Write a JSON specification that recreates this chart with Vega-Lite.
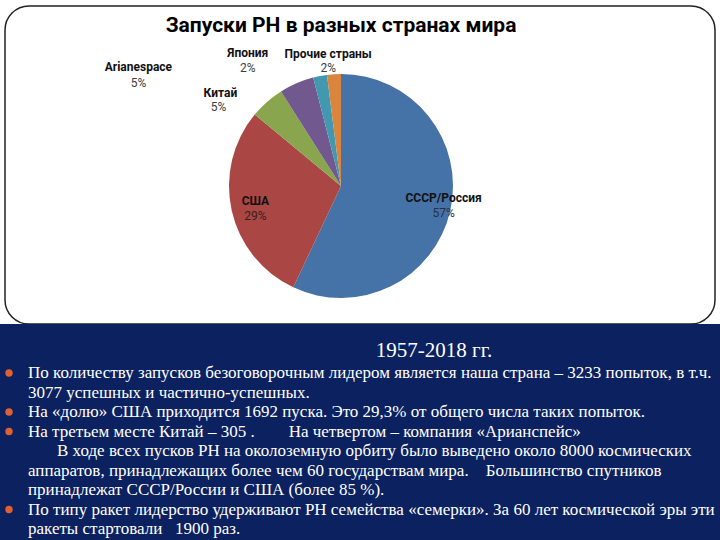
{
  "$schema": "https://vega.github.io/schema/vega-lite/v6.json",
  "background": "white",
  "padding": {"top": 5, "left": 0, "right": 0, "bottom": 0},
  "spacing": 0,
  "center": true,
  "bounds": "flush",
  "config": {"view": {"stroke": null}},
  "datasets": {
    "pie": [
      {"k": 1, "name": "СССР/Россия", "pct": 57, "plabel": "57%"},
      {"k": 2, "name": "США", "pct": 29, "plabel": "29%"},
      {"k": 3, "name": "Китай", "pct": 5, "plabel": "5%"},
      {"k": 4, "name": "Arianespace", "pct": 5, "plabel": "5%"},
      {"k": 5, "name": "Япония", "pct": 2, "plabel": "2%"},
      {"k": 6, "name": "Прочие страны", "pct": 2, "plabel": "2%"}
    ],
    "heading": [{"t": "Запуски РН в разных странах мира"}],
    "lines": [
      {"line": 0, "kind": "title", "bullet": false, "text": "1957-2018 гг."},
      {"line": 1, "kind": "body", "bullet": true, "text": "По количеству запусков безоговорочным лидером является наша страна – 3233 попыток, в т.ч."},
      {"line": 2, "kind": "body", "bullet": false, "text": "3077 успешных и частично-успешных."},
      {"line": 3, "kind": "body", "bullet": true, "text": "На «долю» США приходится 1692 пуска. Это 29,3% от общего числа таких попыток."},
      {"line": 4, "kind": "body", "bullet": true, "text": "На третьем месте Китай – 305 .\u00a0\u00a0\u00a0\u00a0\u00a0\u00a0\u00a0 На четвертом – компания «Арианспейс»"},
      {"line": 5, "kind": "indent", "bullet": false, "text": "В ходе всех пусков РН на околоземную орбиту было выведено около 8000 космических"},
      {"line": 6, "kind": "body", "bullet": false, "text": "аппаратов, принадлежащих более чем 60 государствам мира.\u00a0\u00a0\u00a0 Большинство спутников"},
      {"line": 7, "kind": "body", "bullet": false, "text": "принадлежат СССР/России и США (более 85 %)."},
      {"line": 8, "kind": "body", "bullet": true, "text": "По типу ракет лидерство удерживают РН семейства «семерки». За 60 лет космической эры эти"},
      {"line": 9, "kind": "body", "bullet": false, "text": "ракеты стартовали\u00a0\u00a0 1900 раз."}
    ]
  },
  "vconcat": [
    {
      "width": 710,
      "height": 318,
      "view": {"fill": "white", "stroke": "#222222", "strokeWidth": 1.5, "cornerRadius": 24},
      "layer": [
        {
          "data": {"name": "heading"},
          "mark": {"type": "text", "x": 336, "y": 20, "align": "center", "baseline": "middle", "font": "Roboto", "fontSize": 21, "fontWeight": "bold", "fill": "#000000"},
          "encoding": {"text": {"field": "t"}}
        },
        {
          "data": {"name": "pie"},
          "mark": {"type": "arc", "outerRadius": 112, "x": 336, "y": 180},
          "encoding": {
            "theta": {"field": "pct", "type": "quantitative", "stack": true, "scale": {"domain": [0, 100]}},
            "order": {"field": "k", "type": "quantitative"},
            "color": {
              "field": "name", "type": "nominal", "legend": null,
              "scale": {
                "domain": ["СССР/Россия", "США", "Китай", "Arianespace", "Япония", "Прочие страны"],
                "range": ["#4572A7", "#AA4643", "#89A54E", "#71588F", "#4198AF", "#DB843D"]
              }
            }
          }
        },
        {
          "data": {"name": "pie"},
          "mark": {"type": "text", "x": 336, "y": 180, "radius": 100, "dx": 5, "dy": -10, "font": "Roboto", "fontSize": 12, "fontWeight": "bold", "fill": "#111111"},
          "encoding": {"theta": {"field": "pct", "type": "quantitative", "stack": true}, "order": {"field": "k", "type": "quantitative"}, "text": {"condition": {"test": "datum.k === 1", "field": "name"}, "value": ""}}
        },
        {
          "data": {"name": "pie"},
          "mark": {"type": "text", "x": 336, "y": 180, "radius": 100, "dx": 5, "dy": 5, "font": "Roboto", "fontSize": 12, "fill": "#2a2f45"},
          "encoding": {"theta": {"field": "pct", "type": "quantitative", "stack": true}, "order": {"field": "k", "type": "quantitative"}, "text": {"condition": {"test": "datum.k === 1", "field": "plabel"}, "value": ""}}
        },
        {
          "data": {"name": "pie"},
          "mark": {"type": "text", "x": 336, "y": 180, "radius": 100, "dx": 12, "dy": -7, "font": "Roboto", "fontSize": 12, "fontWeight": "bold", "fill": "#111111"},
          "encoding": {"theta": {"field": "pct", "type": "quantitative", "stack": true}, "order": {"field": "k", "type": "quantitative"}, "text": {"condition": {"test": "datum.k === 2", "field": "name"}, "value": ""}}
        },
        {
          "data": {"name": "pie"},
          "mark": {"type": "text", "x": 336, "y": 180, "radius": 100, "dx": 12, "dy": 8, "font": "Roboto", "fontSize": 12, "fill": "#3a2020"},
          "encoding": {"theta": {"field": "pct", "type": "quantitative", "stack": true}, "order": {"field": "k", "type": "quantitative"}, "text": {"condition": {"test": "datum.k === 2", "field": "plabel"}, "value": ""}}
        },
        {
          "data": {"name": "pie"},
          "mark": {"type": "text", "x": 336, "y": 180, "radius": 140, "dx": -28, "dy": 12, "font": "Roboto", "fontSize": 12, "fontWeight": "bold", "fill": "#111111"},
          "encoding": {"theta": {"field": "pct", "type": "quantitative", "stack": true}, "order": {"field": "k", "type": "quantitative"}, "text": {"condition": {"test": "datum.k === 3", "field": "name"}, "value": ""}}
        },
        {
          "data": {"name": "pie"},
          "mark": {"type": "text", "x": 336, "y": 180, "radius": 140, "dx": -30, "dy": 26, "font": "Roboto", "fontSize": 12, "fill": "#404040"},
          "encoding": {"theta": {"field": "pct", "type": "quantitative", "stack": true}, "order": {"field": "k", "type": "quantitative"}, "text": {"condition": {"test": "datum.k === 3", "field": "plabel"}, "value": ""}}
        },
        {
          "data": {"name": "pie"},
          "mark": {"type": "text", "x": 336, "y": 180, "radius": 140, "dx": -147, "dy": 9.5, "font": "Roboto", "fontSize": 12, "fontWeight": "bold", "fill": "#111111"},
          "encoding": {"theta": {"field": "pct", "type": "quantitative", "stack": true}, "order": {"field": "k", "type": "quantitative"}, "text": {"condition": {"test": "datum.k === 4", "field": "name"}, "value": ""}}
        },
        {
          "data": {"name": "pie"},
          "mark": {"type": "text", "x": 336, "y": 180, "radius": 140, "dx": -147, "dy": 25.5, "font": "Roboto", "fontSize": 12, "fill": "#404040"},
          "encoding": {"theta": {"field": "pct", "type": "quantitative", "stack": true}, "order": {"field": "k", "type": "quantitative"}, "text": {"condition": {"test": "datum.k === 4", "field": "plabel"}, "value": ""}}
        },
        {
          "data": {"name": "pie"},
          "mark": {"type": "text", "x": 336, "y": 180, "radius": 140, "dx": -67, "dy": 4.5, "font": "Roboto", "fontSize": 12, "fontWeight": "bold", "fill": "#111111"},
          "encoding": {"theta": {"field": "pct", "type": "quantitative", "stack": true}, "order": {"field": "k", "type": "quantitative"}, "text": {"condition": {"test": "datum.k === 5", "field": "name"}, "value": ""}}
        },
        {
          "data": {"name": "pie"},
          "mark": {"type": "text", "x": 336, "y": 180, "radius": 140, "dx": -67, "dy": 19.5, "font": "Roboto", "fontSize": 12, "fill": "#404040"},
          "encoding": {"theta": {"field": "pct", "type": "quantitative", "stack": true}, "order": {"field": "k", "type": "quantitative"}, "text": {"condition": {"test": "datum.k === 5", "field": "plabel"}, "value": ""}}
        },
        {
          "data": {"name": "pie"},
          "mark": {"type": "text", "x": 336, "y": 180, "radius": 140, "dx": -4, "dy": 7.7, "font": "Roboto", "fontSize": 12, "fontWeight": "bold", "fill": "#111111"},
          "encoding": {"theta": {"field": "pct", "type": "quantitative", "stack": true}, "order": {"field": "k", "type": "quantitative"}, "text": {"condition": {"test": "datum.k === 6", "field": "name"}, "value": ""}}
        },
        {
          "data": {"name": "pie"},
          "mark": {"type": "text", "x": 336, "y": 180, "radius": 140, "dx": -4, "dy": 21.7, "font": "Roboto", "fontSize": 12, "fill": "#404040"},
          "encoding": {"theta": {"field": "pct", "type": "quantitative", "stack": true}, "order": {"field": "k", "type": "quantitative"}, "text": {"condition": {"test": "datum.k === 6", "field": "plabel"}, "value": ""}}
        }
      ]
    },
    {
      "width": 720,
      "height": 217,
      "view": {"fill": "#0C2160", "stroke": null},
      "data": {"name": "lines"},
      "encoding": {
        "y": {"field": "line", "type": "quantitative", "scale": {"domain": [1, 9], "range": [49, 205]}, "axis": null}
      },
      "layer": [
        {
          "transform": [{"filter": "datum.bullet"}],
          "mark": {"type": "point", "filled": true, "size": 55, "color": "#E0612F", "opacity": 1},
          "encoding": {"x": {"value": 9}}
        },
        {
          "transform": [{"filter": "datum.kind === 'body'"}],
          "mark": {"type": "text", "align": "left", "baseline": "middle", "font": "Liberation Serif", "fontSize": 17, "fill": "#FFFFFF"},
          "encoding": {"x": {"value": 28}, "text": {"field": "text"}}
        },
        {
          "transform": [{"filter": "datum.kind === 'indent'"}],
          "mark": {"type": "text", "align": "left", "baseline": "middle", "font": "Liberation Serif", "fontSize": 17, "fill": "#FFFFFF"},
          "encoding": {"x": {"value": 57}, "text": {"field": "text"}}
        },
        {
          "transform": [{"filter": "datum.kind === 'title'"}],
          "mark": {"type": "text", "align": "center", "baseline": "middle", "dy": -3, "font": "Liberation Serif", "fontSize": 21, "fill": "#FFFFFF"},
          "encoding": {"x": {"value": 434}, "text": {"field": "text"}}
        }
      ]
    }
  ]
}
